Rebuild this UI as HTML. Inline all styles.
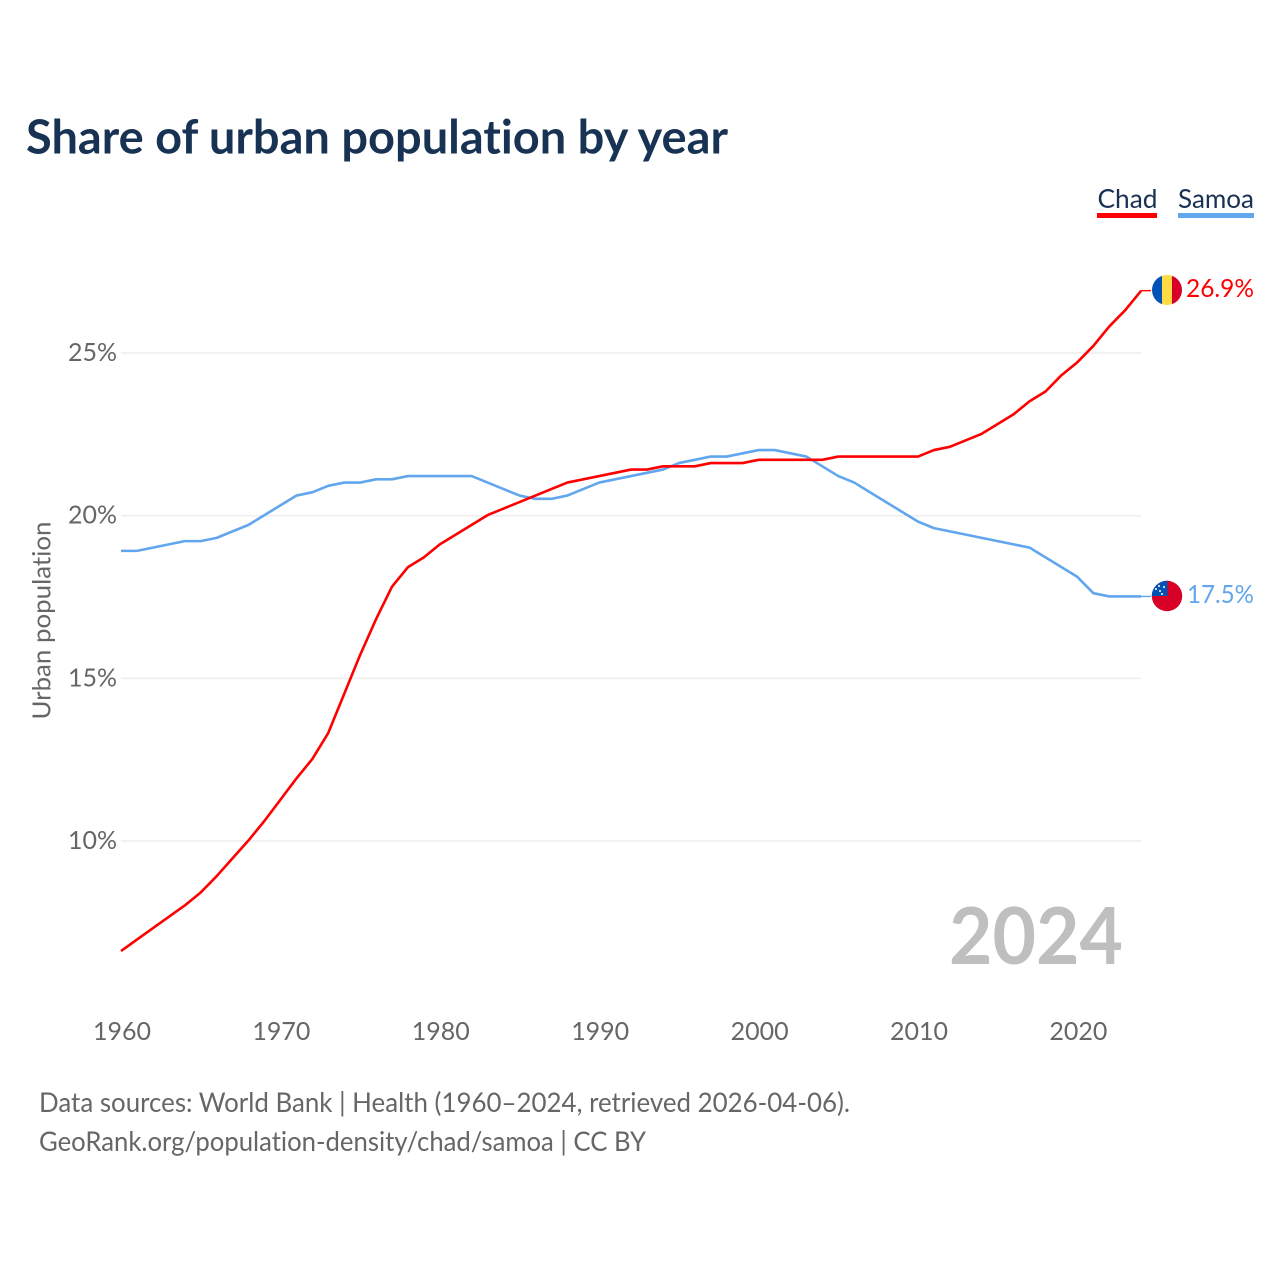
<!DOCTYPE html>
<html lang="en">
<head>
<meta charset="utf-8">
<title>Share of urban population by year</title>
<style>
html,body{margin:0;padding:0;background:#fff;}
svg{display:block;}
text{font-family:"Lato","Carlito","Liberation Sans",sans-serif;font-variant-ligatures:none;font-feature-settings:"liga" 0,"clig" 0;}
</style>
</head>
<body>
<svg id="chart" xmlns="http://www.w3.org/2000/svg" width="1280" height="1280" viewBox="0 0 1280 1280">
  <defs>
    <clipPath id="clip-chad"><circle cx="1167" cy="290" r="15"/></clipPath>
    <clipPath id="clip-samoa"><circle cx="1167" cy="596" r="15.2"/></clipPath>
  </defs>
  <rect width="1280" height="1280" fill="#fff"/>
  <text x="26" y="153.5" font-size="47" font-weight="700" fill="#173253" textLength="702" lengthAdjust="spacingAndGlyphs">Share of urban population by year</text>

  <g>
    <text x="1097.5" y="208" font-size="26.5" fill="#173253" textLength="60" lengthAdjust="spacingAndGlyphs">Chad</text>
    <rect x="1097" y="213" width="60" height="5" fill="#ff0000"/>
  </g>
  <g>
    <text x="1178" y="208" font-size="26.5" fill="#173253" textLength="76" lengthAdjust="spacingAndGlyphs">Samoa</text>
    <rect x="1178" y="213" width="76" height="5" fill="#62a6ee"/>
  </g>

  <g id="grid"></g>
  <g id="yticks"></g>
  <g id="xticks"></g>
  <text transform="translate(50.5,620.5) rotate(-90)" text-anchor="middle" font-size="25.5" fill="#666" textLength="198" lengthAdjust="spacingAndGlyphs">Urban population</text>

  <text x="949" y="964" font-size="79" font-weight="700" fill="#bfbfbf" textLength="174" lengthAdjust="spacingAndGlyphs">2024</text>

  <g id="series" transform="translate(0,-0.6)"></g>

  <g clip-path="url(#clip-chad)">
    <rect x="1152" y="275" width="10" height="31" fill="#0052b4"/>
    <rect x="1162" y="275" width="10" height="31" fill="#ffda44"/>
    <rect x="1172" y="275" width="10" height="31" fill="#d80027"/>
  </g>
  <g clip-path="url(#clip-samoa)">
    <rect x="1151" y="580" width="32" height="32" fill="#d80027"/>
    <rect x="1151" y="580" width="16.5" height="16" fill="#0052b4"/>
    <circle cx="1160" cy="591" r="1.1" fill="#fff" fill-opacity="0.85"/>
    <circle cx="1164" cy="587" r="1.1" fill="#fff" fill-opacity="0.85"/>
    <circle cx="1159" cy="586" r="1.1" fill="#fff" fill-opacity="0.85"/>
    <circle cx="1156" cy="589" r="1.1" fill="#fff" fill-opacity="0.85"/>
    <circle cx="1162" cy="594" r="1.1" fill="#fff" fill-opacity="0.85"/>
  </g>

  <text x="1186" y="297" font-size="25.5" fill="#ff0000" textLength="68" lengthAdjust="spacingAndGlyphs">26.9%</text>
  <text x="1187" y="603" font-size="25.5" fill="#62a6ee" textLength="67" lengthAdjust="spacingAndGlyphs">17.5%</text>

  <text x="39" y="1112" font-size="27.5" fill="#666" textLength="811" lengthAdjust="spacingAndGlyphs">Data sources: World Bank | Health (1960–2024, retrieved 2026-04-06).</text>
  <text x="39" y="1151" font-size="27.5" fill="#666" textLength="607" lengthAdjust="spacingAndGlyphs">GeoRank.org/population-density/chad/samoa | CC BY</text>
</svg>
<script>
const startYear = 1960;
const chadValues = [6.6,6.95,7.3,7.65,8.0,8.4,8.9,9.45,10.0,10.6,11.25,11.9,12.5,13.3,14.5,15.7,16.8,17.8,18.4,18.7,19.1,19.4,19.7,20.0,20.2,20.4,20.6,20.8,21.0,21.1,21.2,21.3,21.4,21.4,21.5,21.5,21.5,21.6,21.6,21.6,21.7,21.7,21.7,21.7,21.7,21.8,21.8,21.8,21.8,21.8,21.8,22.0,22.1,22.3,22.5,22.8,23.1,23.5,23.8,24.3,24.7,25.2,25.8,26.3,26.9];
const samoaValues = [18.9,18.9,19.0,19.1,19.2,19.2,19.3,19.5,19.7,20.0,20.3,20.6,20.7,20.9,21.0,21.0,21.1,21.1,21.2,21.2,21.2,21.2,21.2,21.0,20.8,20.6,20.5,20.5,20.6,20.8,21.0,21.1,21.2,21.3,21.4,21.6,21.7,21.8,21.8,21.9,22.0,22.0,21.9,21.8,21.5,21.2,21.0,20.7,20.4,20.1,19.8,19.6,19.5,19.4,19.3,19.2,19.1,19.0,18.7,18.4,18.1,17.6,17.5,17.5,17.5];
const yTickValues = [10,15,20,25];
const xTickValues = [1960,1970,1980,1990,2000,2010,2020];

const NS = 'http://www.w3.org/2000/svg';
function xScale(year){ return 121 + (year - 1960) * 15.94; }
function yScale(v){ return 841 - (v - 10) * 32.53; }
function make(tag, attrs, parent){
  const el = document.createElementNS(NS, tag);
  Object.keys(attrs).forEach(function(k){ el.setAttribute(k, attrs[k]); });
  parent.appendChild(el);
  return el;
}
const grid = document.getElementById('grid');
const yticks = document.getElementById('yticks');
const xticks = document.getElementById('xticks');
const series = document.getElementById('series');

yTickValues.forEach(function(v){
  const line = make('line', {x1:121, x2:1141, y1:yScale(v), y2:yScale(v), stroke:'#eeeeee', 'stroke-width':1.5}, grid);
  
  
  const t = make('text', {x:117, y:yScale(v)+8, 'text-anchor':'end', 'font-size':25.5, fill:'#666', textLength:49, lengthAdjust:'spacingAndGlyphs'}, yticks);
  
  
  t.textContent = v + '%';
});
xTickValues.forEach(function(y){
  const t = make('text', {x:xScale(y)+1, y:1040, 'text-anchor':'middle', 'font-size':25.5, fill:'#666', textLength:58, lengthAdjust:'spacingAndGlyphs'}, xticks);
  
  
  t.textContent = y;
});
function drawSeries(values, color){
  const pts = values.map(function(v, i){ return xScale(startYear + i).toFixed(2) + ',' + yScale(v).toFixed(2); });
  const path = make('polyline', {points:pts.join(' '), fill:'none', stroke:color, 'stroke-width':2.6, 'stroke-linejoin':'round'}, series);
  
  
  const last = values[values.length - 1];
  const lastX = xScale(startYear + values.length - 1);
  const conn = make('line', {x1:lastX, x2:1151, y1:yScale(last), y2:yScale(last), stroke:color, 'stroke-width':1.4}, series);
  
  
}
drawSeries(samoaValues, '#62a6ee');
drawSeries(chadValues, '#ff0000');
</script>
</body>
</html>
